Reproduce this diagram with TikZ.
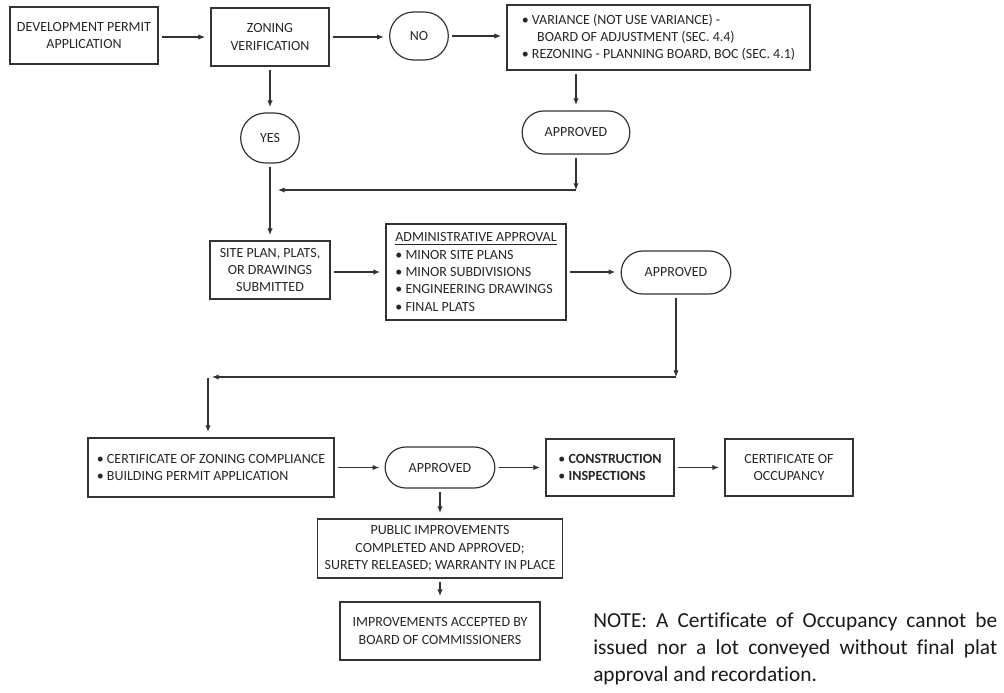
\documentclass[tikz,border=0pt]{standalone}
\usepackage{fontspec}
\setmainfont{Carlito}[Ligatures=CommonOff]
\usetikzlibrary{arrows.meta, shapes.misc}

\begin{document}
\begin{tikzpicture}[x=0.75pt, y=-0.75pt,
                box/.style={draw=black!80, line width=0.9pt, align=center, inner sep=2pt,
                        text=black!85, font=\fontsize{10.5}{13}\selectfont},
                listbox/.style={box, align=left},
                term/.style={box, rounded rectangle},
                flow/.style={draw=black!80, line width=0.8pt, -{Latex[length=5pt, width=4pt]},
                        shorten <=2.5pt, shorten >=4pt}]
                        \useasboundingbox (0,0) rectangle (1004,693);
                        % top row
                        \node[box, minimum width=111pt, minimum height=42.75pt] (permit) at (84,35.5) {DEVELOPMENT PERMIT\\APPLICATION};
                        \node[box, minimum width=88.5pt, minimum height=43.5pt] (zoning) at (270,37) {ZONING\\VERIFICATION};
                        \node[term, minimum width=48pt, minimum height=36pt] (no) at (419,36) {NO};
                        \node[listbox, minimum width=227.25pt, minimum height=48.75pt] (variance) at (658.5,37.5)
                                {\textbullet\ VARIANCE (NOT USE VARIANCE) -\\
                                 \hspace*{1.1em}BOARD OF ADJUSTMENT (SEC. 4.4)\\
                                 \textbullet\ REZONING - PLANNING BOARD, BOC (SEC. 4.1)};
                        \node[term, minimum width=84.75pt, minimum height=32.25pt] (approvedA) at (576,132.5) {APPROVED};
                        \node[term, minimum width=48pt, minimum height=37.5pt] (yes) at (270,138) {YES};

                        % middle row
                        \node[box, minimum width=90pt, minimum height=43.5pt] (siteplan) at (270,270) {SITE PLAN, PLATS,\\OR DRAWINGS\\SUBMITTED};
                        \node[listbox, minimum width=135pt, minimum height=72pt] (admin) at (476,272)
                                {\underline{ADMINISTRATIVE APPROVAL}\\
                                 \textbullet\ MINOR SITE PLANS\\
                                 \textbullet\ MINOR SUBDIVISIONS\\
                                 \textbullet\ ENGINEERING DRAWINGS\\
                                 \textbullet\ FINAL PLATS};
                        \node[term, minimum width=86.25pt, minimum height=32.25pt] (approvedB) at (676,272.5) {APPROVED};

                        % bottom row
                        \node[listbox, minimum width=184.5pt, minimum height=44.25pt] (compliance) at (211,467.5)
                                {\textbullet\ CERTIFICATE OF ZONING COMPLIANCE\\
                                 \textbullet\ BUILDING PERMIT APPLICATION};
                        \node[term, minimum width=86.25pt, minimum height=30.75pt] (approvedC) at (440,467.5) {APPROVED};
                        \node[listbox, minimum width=96pt, minimum height=42.75pt] (construction) at (610,467.5)
                                {\textbullet\ \textbf{CONSTRUCTION}\\
                                 \textbullet\ \textbf{INSPECTIONS}};
                        \node[box, minimum width=96pt, minimum height=42.75pt] (occupancy) at (789,467.5) {CERTIFICATE OF\\OCCUPANCY};
                        \node[box, minimum width=183.75pt, minimum height=44.25pt] (public) at (440,548.5)
                                {PUBLIC IMPROVEMENTS\\COMPLETED AND APPROVED;\\SURETY RELEASED; WARRANTY IN PLACE};
                        \node[box, minimum width=150pt, minimum height=43.5pt] (accepted) at (440,631)
                                {IMPROVEMENTS ACCEPTED BY\\BOARD OF COMMISSIONERS};

                        \node[anchor=north west, text width=303pt, align=justify, inner sep=0pt, text=black!90,
                                font=\fontsize{16}{20.25}\selectfont] (note) at (593,612)
                                {\hyphenpenalty=10000 NOTE: A Certificate of Occupancy cannot be\linebreak
                                 issued nor a lot conveyed without final plat\linebreak
                                 approval and recordation.};

                        % connectors
                        \coordinate (joinA) at (576,190);
                        \coordinate (endA) at (278,190);
                        \coordinate (joinB) at (676,377);
                        \coordinate (endB) at (212,377);
                        \coordinate (dropB) at (208,378);

                        \draw[flow] (permit.east |- zoning.west) -- (zoning.west);
                        \draw[flow] (zoning.east) -- (zoning.east -| no.west);
                        \draw[flow] (no.east) -- (no.east -| variance.west);
                        \draw[flow] (approvedA.north |- variance.south) -- (approvedA.north);
                        \draw[flow] (zoning.south) -- (yes.north);
                        \draw[flow, shorten >=0pt] (approvedA.south) -- (joinA);
                        \draw[flow, shorten <=0pt, shorten >=0pt] (joinA) -- (endA);
                        \draw[flow] (yes.south) -- (siteplan.north);
                        \draw[flow] (siteplan.east |- admin.west) -- (admin.west);
                        \draw[flow] (admin.east) -- (admin.east -| approvedB.west);
                        \draw[flow, shorten >=0pt] (approvedB.south) -- (joinB);
                        \draw[flow, shorten <=0pt, shorten >=0pt] (joinB) -- (endB);
                        \draw[flow, shorten <=0pt] (dropB) -- (dropB |- compliance.north);
                        \draw[flow] (compliance.east) -- (approvedC.west);
                        \draw[flow] (approvedC.east) -- (construction.west);
                        \draw[flow] (construction.east) -- (occupancy.west);
                        \draw[flow] (approvedC.south) -- (public.north);
                        \draw[flow] (public.south) -- (accepted.north);
                \end{tikzpicture}
\end{document}
